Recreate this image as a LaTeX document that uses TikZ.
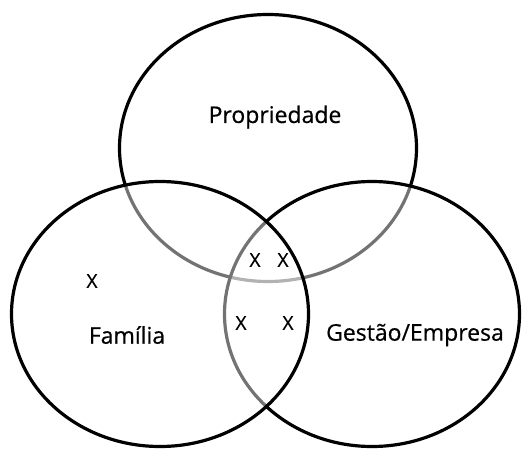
\documentclass[tikz,border=0pt]{standalone}
\usepackage{fontspec}
\setmainfont{Open Sans}
\newfontfamily\lblfont{Open Sans}[FakeBold=0.5]
\usetikzlibrary{shapes.geometric}
\begin{document}
\begin{tikzpicture}[x=1pt,y=-1pt,
  set/.style={ellipse,draw=black,line width=3.2pt,fill=white,fill opacity=0.45,inner sep=0pt},
  lbl/.style={font=\lblfont\fontsize{23}{27}\selectfont,inner sep=0pt,anchor=center},
  xmark/.style={font=\lblfont\fontsize{19}{22}\selectfont,inner sep=0pt,anchor=center}]
\fill[white] (0,0) rectangle (522,450);
\useasboundingbox (0,0) rectangle (522,450);
\node[set,minimum width=297pt,minimum height=267pt] (top) at (268,148) {};
\node[set,minimum width=295pt,minimum height=265pt] (right) at (372,314) {};
\node[set,minimum width=297pt,minimum height=265pt] (left) at (160,314) {};
\node[lbl] (prop) at (275,117) {Propriedade};
\node[lbl] (fam) at (127,335) {Família};
\node[lbl] (gest) at (415,335) {Gestão/Empresa};
\node[xmark] (x1) at (92,281) {X};
\node[xmark] (x2) at (255,260) {X};
\node[xmark] (x3) at (283,260) {X};
\node[xmark] (x4) at (241,323) {X};
\node[xmark] (x5) at (288,323) {X};
\end{tikzpicture}
\end{document}
